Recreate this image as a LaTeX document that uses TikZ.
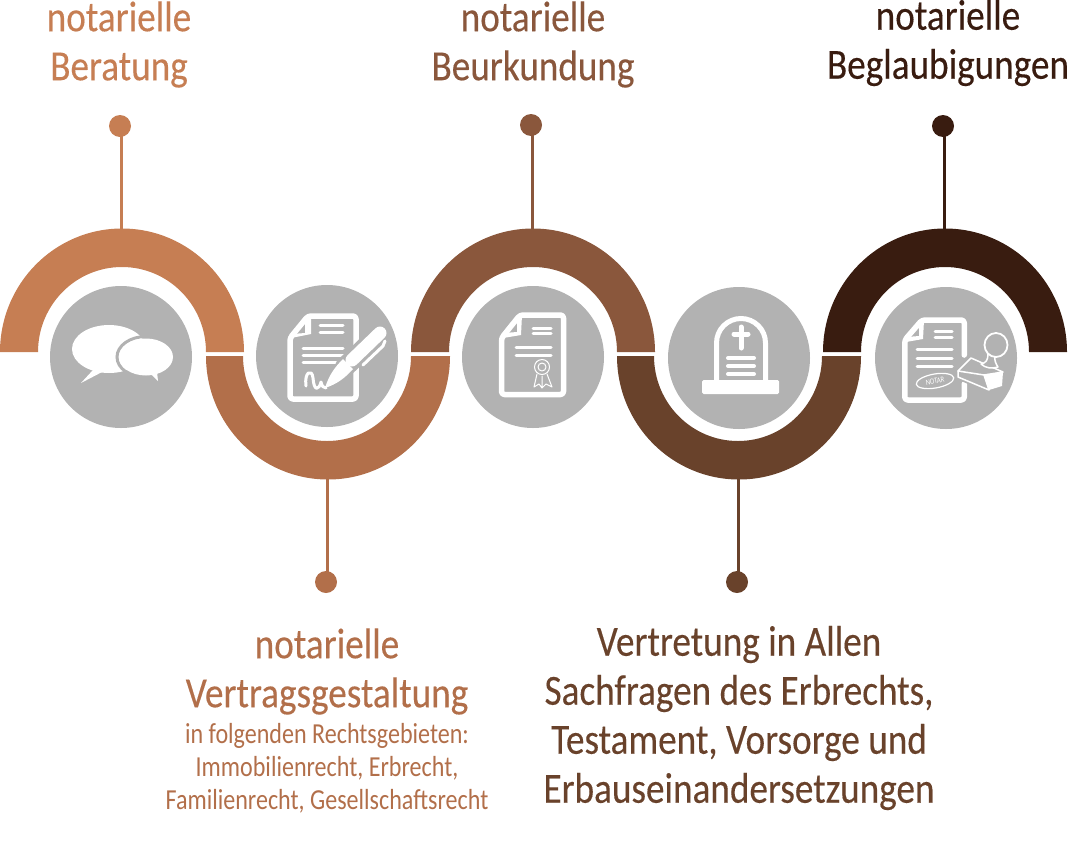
\documentclass[tikz,border=0pt]{standalone}
\usepackage{fontspec}
\setmainfont{Carlito}[FakeStretch=0.83]
\newfontfamily\headfont{Carlito}[FakeStretch=0.865, FakeBold=0.25]
\definecolor{tanA}{HTML}{C67E53}
\definecolor{tanB}{HTML}{B26F4A}
\definecolor{tanC}{HTML}{8A573C}
\definecolor{tanD}{HTML}{69422B}
\definecolor{tanE}{HTML}{391C10}
\definecolor{coingray}{HTML}{B2B2B2}
\newcommand{\rox}{122pt}
\newcommand{\roy}{123.5pt}
\newcommand{\rix}{84pt}
\newcommand{\riy}{85pt}

\begin{document}
\begin{tikzpicture}[x=1pt, y=-1pt,
  coin/.style={circle, fill=coingray, minimum size=142pt, inner sep=0pt},
  dot/.style={circle, minimum size=22pt, inner sep=0pt},
  head/.style={align=center, inner sep=0pt, font=\headfont\fontsize{43}{49}\selectfont},
  small/.style={align=center, inner sep=0pt, font=\fontsize{29}{33}\selectfont},
  stem/.style={line width=3pt},
  ink/.style={draw=white, line cap=round, line join=round},
  page/.style={ink, line width=5.5pt, rounded corners=3pt},
  halo/.style={draw=coingray, line cap=round},
  outer/.style={x radius=\rox, y radius=\roy},
  inner/.style={x radius=\rix, y radius=\riy}]
  \useasboundingbox (0,0) rectangle (1070,854);

  % bands
  \fill[tanA] (0,352) arc[start angle=180, end angle=0, outer] -- (206,352) arc[start angle=0, end angle=180, inner] -- cycle;
  \fill[tanB] (206,356) arc[start angle=180, end angle=360, outer] -- (411,356) arc[start angle=360, end angle=180, inner] -- cycle;
  \fill[tanC] (411,352) arc[start angle=180, end angle=0, outer] -- (617,352) arc[start angle=0, end angle=180, inner] -- cycle;
  \fill[tanD] (617,356) arc[start angle=180, end angle=360, outer] -- (822,356) arc[start angle=360, end angle=180, inner] -- cycle;
  \fill[tanE] (823,352) arc[start angle=180, end angle=0, outer] -- (1029,352) arc[start angle=0, end angle=180, inner] -- cycle;

  \coordinate (apexA) at (121,230);
  \coordinate (apexB) at (327,478);
  \coordinate (apexC) at (532,230);
  \coordinate (apexD) at (738,478);
  \coordinate (apexE) at (944,230);

  \node[dot, fill=tanA] (dotA) at (120,126) {};
  \node[dot, fill=tanB] (dotB) at (326,582) {};
  \node[dot, fill=tanC] (dotC) at (531,125) {};
  \node[dot, fill=tanD] (dotD) at (737,582) {};
  \node[dot, fill=tanE] (dotE) at (943,126) {};
  \draw[stem, tanA] (apexA |- dotA) -- (apexA);
  \draw[stem, tanB] (apexB |- dotB) -- (apexB);
  \draw[stem, tanC] (apexC |- dotC) -- (apexC);
  \draw[stem, tanD] (apexD |- dotD) -- (apexD);
  \draw[stem, tanE] (apexE |- dotE) -- (apexE);

  \node[coin] (coinA) at (121,357) {};
  \node[coin] (coinB) at (327,356) {};
  \node[coin] (coinC) at (533,357) {};
  \node[coin] (coinD) at (739,358) {};
  \node[coin] (coinE) at (946,358) {};

  % speech bubbles
  \fill[white] (109,349) ellipse[x radius=37pt, y radius=24pt];
  \fill[white] (93,370) -- (81,383) -- (104,371) -- cycle;
  \draw[halo, line width=3pt] (146,357) ellipse[x radius=29pt, y radius=20.5pt];
  \fill[white] (146,357) ellipse[x radius=27pt, y radius=18.5pt];
  \fill[white] (150,373) -- (158,381) -- (157,372) -- cycle;

  % signed page
  \draw[page] (290,338) -- (308,316) -- (356,316) -- (356,399) -- (290,399) -- cycle;
  \fill[white] (305,316) -- (311,316) -- (311,334) -- (291,338) -- (292,334) -- (305,333) -- cycle;
  \draw[ink, line width=3pt] (320,325) -- (343,325) (320,332) -- (343,332);
  \draw[ink, line width=3pt] (303,348) -- (343,348) (303,355) -- (343,355) (303,362) -- (336,362);
  \draw[halo, line width=20pt] (345,367) -- (380,333);
  \draw[ink, line width=13pt] (352,360) -- (380,333);
  \fill[white] (325,388) .. controls (329,375) and (335,367) .. (343,359) -- (353,369) .. controls (345,378) and (337,384) .. (325,388) -- cycle;
  \draw[ink, line width=3pt] (363,365) -- (383,346) -- (385,341);
  \draw[ink, line width=3pt] (306,386) .. controls (304,372) and (312,368) .. (313,378) .. controls (314,392) and (319,390) .. (321,382) .. controls (322,386) and (323,388) .. (326,388);

  % page with seal
  \draw[page] (501.5,338) -- (520,315) -- (563.5,315) -- (563.5,394.5) -- (501.5,394.5) -- cycle;
  \fill[white] (517,315) -- (522,315) -- (521,335) -- (503,338) -- (504,333) -- (517,332) -- cycle;
  \draw[ink, line width=3pt] (533,328) -- (551,328) (533,333.5) -- (551,333.5);
  \draw[ink, line width=3pt] (516,347) -- (551,347) (516,355) -- (551,355);
  \draw[ink, line width=1pt] (542,367) circle[radius=7.5pt] (542,367) circle[radius=4pt];
  \draw[ink, line width=1pt] (537,374) -- (534,387) -- (539,384) -- (542,388) -- (546,384) -- (552,387) -- (547,374) (542,388) -- (542,376);

  % grave stone
  \draw[ink, line width=5pt] (716.5,381) -- (716.5,343) arc[start angle=180, end angle=0, radius=24.5pt] -- (765.5,381);
  \fill[white, rounded corners=1.5pt] (702,380) rectangle (779,394);
  \draw[ink, line width=5pt] (741,327) -- (741,348) (734,334) -- (748,334);
  \draw[ink, line width=4pt] (728,358) -- (754,358) (728,366) -- (754,366) (728,374) -- (754,374);

  % page with stamp
  \draw[page] (964.25,355) -- (964.25,320) -- (922,320) -- (904.75,340) -- (904.75,400) -- (964.25,400) -- (964.25,384);
  \fill[white] (919,320) -- (924,320) -- (923,339) -- (906,342) -- (907,337) -- (919,336) -- cycle;
  \draw[ink, line width=3pt] (935,331) -- (952,331) (935,337) -- (952,337);
  \draw[ink, line width=3pt] (917,349) -- (952,349) (917,358) -- (952,358) (917,366) -- (952,366);
  \draw[ink, line width=1.2pt, rotate around={10:(935,381)}] (935,381) ellipse[x radius=19pt, y radius=7pt];
  \node[inner sep=0pt, white, rotate=10, font=\fontsize{8}{8}\selectfont] (notar) at (935,381) {NOTAR};
  \draw[halo, line width=5pt, fill=coingray, line join=round] (958,371) -- (971,358) -- (1003,372) -- (1002,386) -- (989,390) -- (958,377) -- cycle;
  \draw[ink, line width=1.5pt, fill=coingray] (958,371) -- (971,358) -- (1003,372) -- (984,375) -- cycle;
  \draw[ink, line width=1.5pt] (958,371) -- (958,377) -- (989,390) -- (984,375);
  \fill[white] (984,375) -- (1003,372) -- (1002,386) -- (989,390) -- cycle;
  \draw[ink, line width=1.5pt, fill=coingray] (981,364) .. controls (986,363) and (988,360) .. (988,354) -- (995,356) .. controls (994,360) and (996,364) .. (998,367) .. controls (992,369) and (985,368) .. (981,364) -- cycle;
  \draw[ink, line width=1.8pt, fill=coingray] (996,345) ellipse[x radius=11.5pt, y radius=12pt];

  % labels
  \node[head, tanA] (labelA) at (119,44.5) {notarielle\\Beratung};
  \node[head, tanB] (labelB) at (327,671.5) {notarielle\\Vertragsgestaltung};
  \node[small, tanB] (notesB) at (327,768) {in folgenden Rechtsgebieten:\\Immobilienrecht, Erbrecht,\\Familienrecht, Gesellschaftsrecht};
  \node[head, tanC] (labelC) at (533,44.5) {notarielle\\Beurkundung};
  \node[head, tanD] (labelD) at (739,718) {Vertretung in Allen\\Sachfragen des Erbrechts,\\Testament, Vorsorge und\\Erbauseinandersetzungen};
  \node[head, tanE] (labelE) at (948,43) {notarielle\\Beglaubigungen};
\end{tikzpicture}
\end{document}
